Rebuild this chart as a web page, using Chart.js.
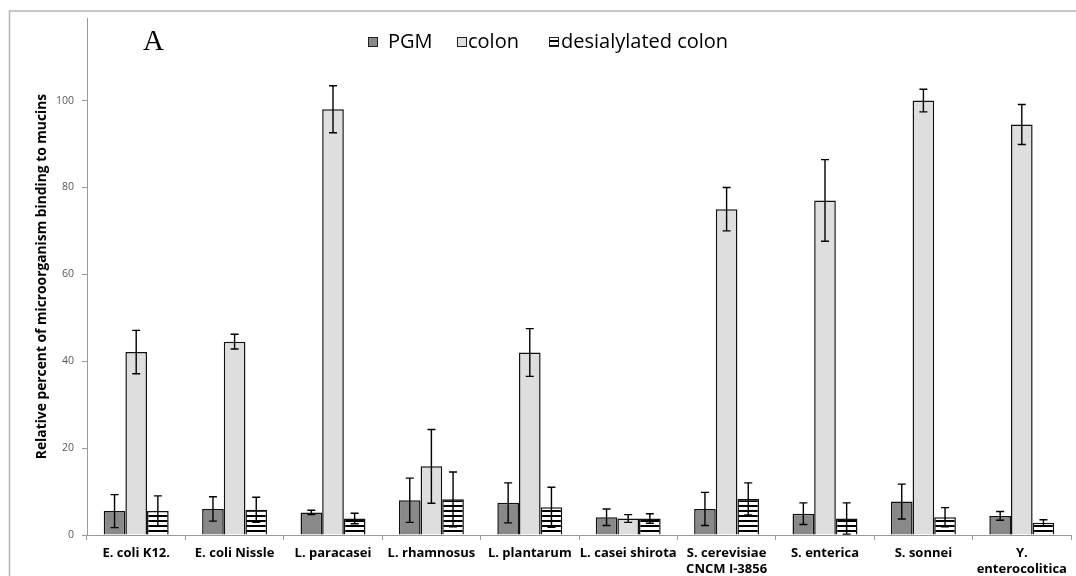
<!DOCTYPE html>
<html>
<head>
<meta charset="utf-8">
<script src="https://cdn.jsdelivr.net/npm/chart.js@4"></script>
<style>
  html, body { margin: 0; padding: 0; background: #fff; }
  #wrap { width: 1076px; height: 576px; }
</style>
</head>
<body>
<div id="wrap"><canvas id="chart"></canvas></div>
<script>
const categories = [
  "E. coli K12.", "E. coli Nissle", "L. paracasei", "L. rhamnosus", "L. plantarum",
  "L. casei shirota", ["S. cerevisiae", "CNCM I-3856"], "S. enterica", "S. sonnei",
  ["Y.", "enterocolitica"]
];
const seriesNames = ["PGM", "colon", "desialylated colon"];
const pgm = [5.5, 6.0, 5.2, 8.0, 7.4, 4.1, 6.0, 4.9, 7.7, 4.4];
const pgmErr = [3.8, 2.8, 0.5, 5.1, 4.6, 1.9, 3.8, 2.5, 4.0, 1.0];
const colon = [42.1, 44.5, 98.0, 15.8, 42.0, 3.8, 75.0, 77.0, 100.0, 94.5];
const colonErr = [5.0, 1.7, 5.4, 8.5, 5.5, 0.9, 5.0, 9.4, 2.6, 4.6];
const desial = [5.5, 5.8, 3.8, 8.2, 6.4, 3.8, 8.3, 3.8, 4.1, 2.8];
const desialErr = [3.5, 2.9, 1.2, 6.3, 4.6, 1.1, 3.7, 3.6, 2.2, 0.7];
const yTicks = [0, 20, 40, 60, 80, 100];

Chart.defaults.font.family = "'Open Sans'";

const canvas = document.getElementById("chart");

// horizontal stripes for the desialylated bars
function stripes() {
  const c = document.createElement("canvas");
  c.width = 5; c.height = 5;
  const g = c.getContext("2d");
  g.fillStyle = "#fff"; g.fillRect(0, 0, 5, 5);
  g.fillStyle = "#000"; g.fillRect(0, 0, 5, 2);
  return canvas.getContext("2d").createPattern(c, "repeat");
}

const errorBars = {
  id: "errorBars",
  afterDatasetsDraw(chart) {
    const ctx = chart.ctx, y = chart.scales.y;
    ctx.save();
    ctx.strokeStyle = "#000";
    ctx.lineWidth = 1.4;
    chart.data.datasets.forEach((ds, i) => {
      chart.getDatasetMeta(i).data.forEach((bar, j) => {
        const v = ds.data[j], e = ds.errors[j];
        const top = y.getPixelForValue(v + e);
        const bot = y.getPixelForValue(Math.max(0, v - e));
        ctx.beginPath();
        ctx.moveTo(bar.x, top); ctx.lineTo(bar.x, bot);
        ctx.moveTo(bar.x - 4, top); ctx.lineTo(bar.x + 4, top);
        ctx.moveTo(bar.x - 4, bot); ctx.lineTo(bar.x + 4, bot);
        ctx.stroke();
      });
    });
    ctx.restore();
  }
};

// outer frame, panel letter and the legend row inside the plot
const decor = {
  id: "decor",
  beforeDraw(chart) {
    const ctx = chart.ctx;
    ctx.save();
    ctx.strokeStyle = "#b5b5b5";
    ctx.lineWidth = 1.5;
    ctx.strokeRect(9.5, 11, 1200, 700);
    ctx.restore();
  },
  afterDraw(chart) {
    const ctx = chart.ctx;
    ctx.save();
    ctx.fillStyle = "#000";
    ctx.font = '29px "Liberation Serif"';
    ctx.textBaseline = "alphabetic";
    ctx.fillText("A", 143, 50);

    const boxX = [368, 457, 549], textX = [388, 468, 561];
    ctx.font = "20px 'Open Sans'";
    ctx.textBaseline = "middle";
    chart.data.datasets.forEach((ds, i) => {
      ctx.fillStyle = ds.backgroundColor;
      ctx.fillRect(boxX[i], 37, 10, 10);
      ctx.strokeStyle = "#222";
      ctx.lineWidth = 1;
      ctx.strokeRect(boxX[i] + 0.5, 37.5, 9, 9);
      ctx.fillStyle = "#000";
      ctx.fillText(ds.label, textX[i], 42);
    });
    ctx.restore();
  }
};

new Chart(canvas, {
  type: "bar",
  data: {
    labels: categories,
    datasets: [
      { label: seriesNames[0], data: pgm, errors: pgmErr, backgroundColor: "#898989" },
      { label: seriesNames[1], data: colon, errors: colonErr, backgroundColor: "#dedede" },
      { label: seriesNames[2], data: desial, errors: desialErr, backgroundColor: stripes() }
    ].map(d => Object.assign(d, {
      borderColor: "#111", borderWidth: 1.5,
      categoryPercentage: 0.66, barPercentage: 1.0
    }))
  },
  options: {
    responsive: true,
    maintainAspectRatio: false,
    animation: false,
    layout: { padding: { left: 20, right: 5, top: 18, bottom: 0 } },
    plugins: {
      tooltip: { enabled: false },
      legend: { display: false }
    },
    scales: {
      x: {
        afterFit: s => { s.height = 41; },
        grid: { drawOnChartArea: false, offset: true, tickLength: 5, color: "#9a9a9a" },
        border: { color: "#9a9a9a" },
        ticks: {
          autoSkip: false, maxRotation: 0, padding: 5, color: "#000",
          font: { size: 13, weight: "bold", lineHeight: 1.25 }
        }
      },
      y: {
        min: 0, max: 119,
        afterBuildTicks: s => { s.ticks = yTicks.map(v => ({ value: v })); },
        afterFit: s => { s.width = 67; },
        grid: { drawOnChartArea: false, tickLength: 5, color: "#9a9a9a" },
        border: { color: "#9a9a9a" },
        ticks: { padding: 8, color: "#595959", font: { size: 10.5 } },
        title: {
          display: true,
          text: "Relative percent of microorganism binding to mucins",
          color: "#000",
          font: { size: 13.8, weight: "bold" },
          padding: { top: 14, bottom: 0 }
        }
      }
    }
  },
  plugins: [errorBars, decor]
});
</script>
</body>
</html>
